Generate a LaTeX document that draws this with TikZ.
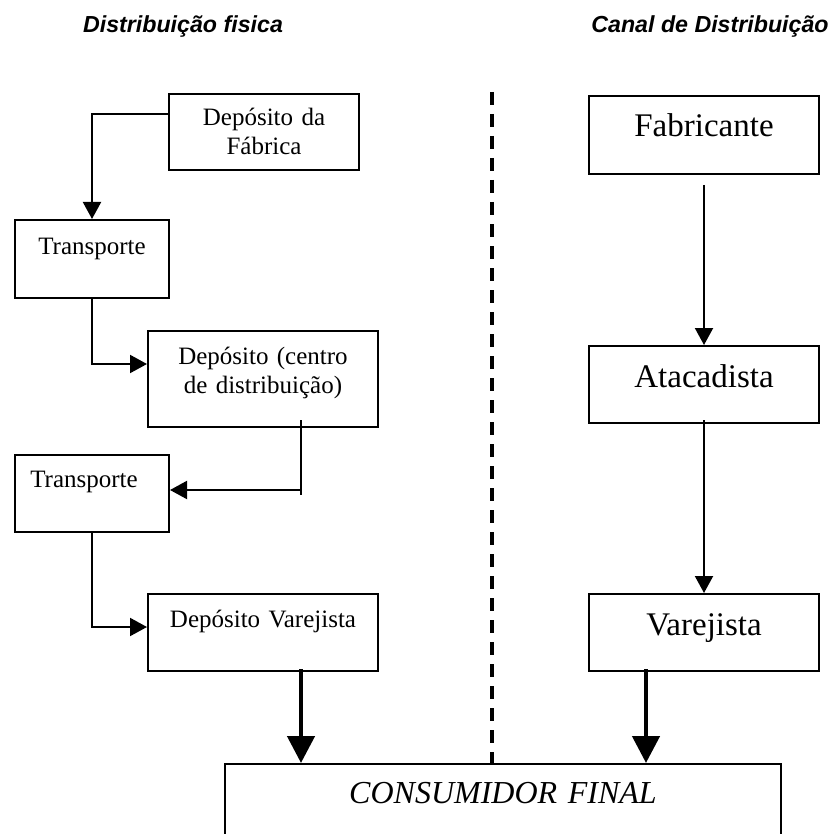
\documentclass[tikz,border=0pt]{standalone}
\usepackage{fontspec}
\setmainfont{Liberation Serif}
\setsansfont{Liberation Sans}
\usepackage{tikz}
\usetikzlibrary{arrows.meta, calc, positioning}

\begin{document}
\begin{tikzpicture}[
    x=0.5pt, y=-0.5pt,
    box/.style={draw, line width=1pt, inner sep=0pt, anchor=north west, align=center,
        font=\fontsize{12.5}{14.5}\selectfont},
    bigbox/.style={box, font=\fontsize{16.5}{19}\selectfont},
    title/.style={font=\sffamily\bfseries\itshape\fontsize{11.6}{13}\selectfont},
    flow/.style={line width=1pt, -{Triangle[width=9pt, length=8.5pt]}},
    bigflow/.style={line width=2.3pt, -{Triangle[width=13.5pt, length=13.5pt]}},
    divider/.style={line width=1.7pt, dash pattern=on 6.5pt off 4.5pt}
]

\useasboundingbox (0,0) rectangle (832,834);
\clip (0,0) rectangle (832,834);

% ---------- titles ----------
\node[title] (tleft) at (183,27) {Distribuição fisica};
\node[title] (tright) at (710,27) {Canal de Distribuição};

% ---------- left column: physical distribution ----------
\node[box, text width=95pt, text height=16pt, text depth=22pt] (fab) at (168,93) {Depósito da\\Fábrica};
\node[box, text width=77pt, text height=17.5pt, text depth=21.5pt] (tr1) at (14,219) {Transporte};
\node[box, text width=115pt, text height=16.5pt, text depth=31.5pt] (dc) at (147,330) {Depósito (centro\\de distribuição)};
\node[box, text width=77pt, text height=16pt, text depth=22.5pt] (tr2) at (14,454) {\hspace*{-8pt}Transporte};
\node[box, text width=115pt, text height=16.5pt, text depth=22pt] (dv) at (147,593) {Depósito Varejista};

\draw[flow] ($(fab.north west)+(0,21)$) -| (tr1.north);
\draw[flow] (tr1.south) |- ($(dc.north west)+(0,34)$);
\coordinate (dcx) at ($(dc.south west)+(154,-8)$);
\coordinate (turn) at ($(dc.south west)+(154,62)$);
\draw[line width=1pt] (dcx) -- ++(0,75);
\draw[flow] (turn) -- (turn -| tr2.east);
\draw[flow] (tr2.south) |- ($(dv.north west)+(0,34)$);

% ---------- right column: distribution channel ----------
\node[bigbox, text width=115pt, text height=20.5pt, text depth=18.5pt] (fabr) at (588,95) {Fabricante};
\node[bigbox, text width=115pt, text height=20.5pt, text depth=18pt] (atac) at (588,345) {Atacadista};
\node[bigbox, text width=115pt, text height=20.5pt, text depth=18pt] (varj) at (588,593) {Varejista};

\draw[flow] ($(fabr.south)+(0,10)$) -- (atac.north);
\draw[flow] ($(atac.south)+(0,-4)$) -- (varj.north);

% ---------- final consumer ----------
\node[bigbox, text width=278pt, text height=19.5pt, text depth=40.5pt,
      font=\itshape\fontsize{16}{19}\selectfont] (cons) at (224,763) {CONSUMIDOR FINAL};

\coordinate (dvx) at ($(dv.south west)+(154,-3)$);
\coordinate (vjx) at ($(varj.south west)+(58,-3)$);
\draw[bigflow] (dvx) -- (dvx |- cons.north);
\draw[bigflow] (vjx) -- (vjx |- cons.north);

% ---------- dashed divider ----------
\coordinate (divtop) at (492,92);
\draw[divider] (divtop) -- (divtop |- cons.north);

\end{tikzpicture}
\end{document}
